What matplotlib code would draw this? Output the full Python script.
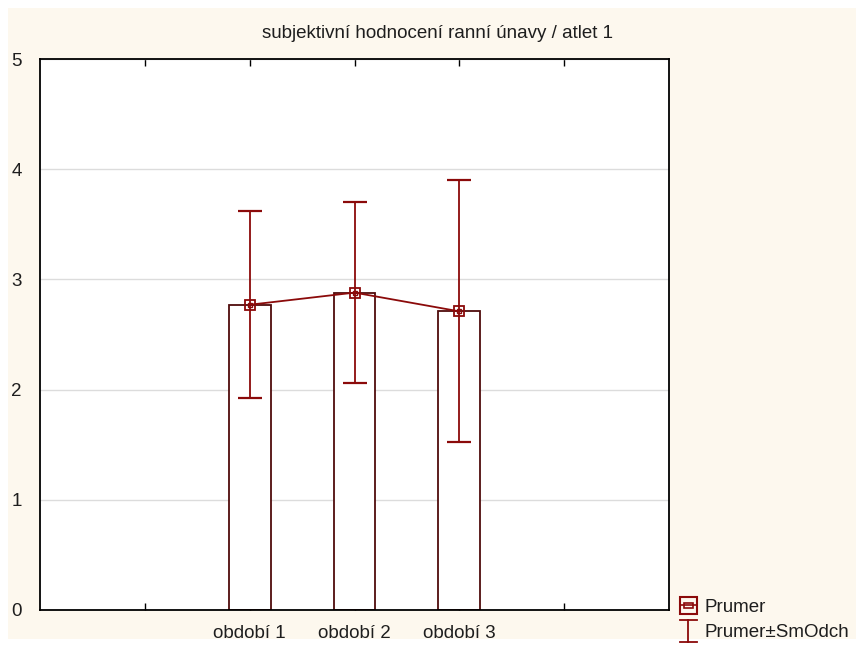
import matplotlib
matplotlib.use("Agg")
import matplotlib.pyplot as plt
from matplotlib.patches import Rectangle
from matplotlib.lines import Line2D
from matplotlib.legend_handler import HandlerBase

categories = ["období 1", "období 2", "období 3"]
means = [2.77, 2.88, 2.71]
sds = [0.85, 0.82, 1.19]
yticks = [0, 1, 2, 3, 4, 5]

plt.rcParams['font.family'] = ['Liberation Sans', 'DejaVu Sans']
txtc = '#1e1e1e'

W, H = 856, 647
fig = plt.figure(figsize=(W/100, H/100), dpi=100)
fig.patch.set_facecolor('white')
fig.patches.append(Rectangle((8/W, (H-639)/H), (W-8)/W, (639-8)/H,
                             transform=fig.transFigure, facecolor='#fdf8ee',
                             edgecolor='none', zorder=-10))

ax = fig.add_axes([40/W, (H-610)/H, (669-40)/W, (610-59)/H])
ax.set_facecolor('white')

pos = [2, 3, 4]
red = '#8b0a0a'
ax.bar(pos, means, width=0.4, facecolor='white', edgecolor='#4f0c0c', linewidth=1.3, zorder=2)
ax.errorbar(pos, means, yerr=sds, fmt='none', ecolor=red, elinewidth=1.3,
            capsize=8.5, capthick=1.6, zorder=3)
ax.plot(pos, means, color=red, linewidth=1.3, marker='s', markersize=7,
        markerfacecolor='none', markeredgecolor=red, markeredgewidth=1.3, zorder=4)
ax.plot(pos, means, linestyle='none', marker='s', markersize=2.5,
        markerfacecolor='none', markeredgecolor=red, markeredgewidth=1.0, zorder=5)

ax.set_xlim(0, 6)
ax.set_ylim(0, 5)
ax.set_yticks(yticks)
ax.set_yticklabels([str(t) for t in yticks], fontsize=13.5, color=txtc)
ax.tick_params(axis='y', length=0, pad=13)
ax.set_xticks([1, 2, 3, 4, 5])
ax.set_xticklabels(["", categories[0], categories[1], categories[2], ""], fontsize=13.5, color=txtc)
ax.tick_params(axis='x', direction='in', length=5, width=1, top=True, pad=11)
ax.yaxis.grid(True, color='#dcdcdc', linewidth=1)
ax.set_axisbelow(True)
for s in ax.spines.values():
    s.set_linewidth(1.3)
    s.set_color('black')

fig.text(438/W, 1 - 34/H, "subjektivní hodnocení ranní únavy / atlet 1",
         ha='center', va='center', fontsize=13.5, color=txtc)


class MeanHandler(HandlerBase):
    def create_artists(self, legend, orig_handle, xdescent, ydescent, width, height, fontsize, trans):
        cx, cy = width / 2 - xdescent, height / 2 - ydescent
        s = min(width, height) * 1.0
        big = Rectangle((cx - s/2, cy - s/2), s, s, facecolor='none', edgecolor=red,
                        linewidth=1.5, transform=trans)
        small = Rectangle((cx - s/4, cy - s/6), s/2, s/3, facecolor='none', edgecolor=red,
                          linewidth=1.2, transform=trans)
        ln = Line2D([cx - s/2, cx + s/2], [cy, cy], color=red, linewidth=1.2, transform=trans)
        return [big, small, ln]


class ErrHandler(HandlerBase):
    def create_artists(self, legend, orig_handle, xdescent, ydescent, width, height, fontsize, trans):
        cx = width / 2 - xdescent
        y0, y1 = -ydescent - 2, height - ydescent + 2
        s = min(width, height) * 0.5
        v = Line2D([cx, cx], [y0, y1], color=red, linewidth=1.3, transform=trans)
        t = Line2D([cx - s, cx + s], [y1, y1], color=red, linewidth=1.3, transform=trans)
        b = Line2D([cx - s, cx + s], [y0, y0], color=red, linewidth=1.3, transform=trans)
        return [v, t, b]


hm = Line2D([], [], color=red)
he = Line2D([], [], color=red, linestyle='--')
leg = fig.legend([hm, he], ["Prumer", "Prumer±SmOdch"],
                 handler_map={hm: MeanHandler(), he: ErrHandler()},
                 loc='upper left', bbox_to_anchor=(679/W, 1 - 597/H),
                 frameon=False, fontsize=13.5, handlelength=1.0, handleheight=1.0,
                 handletextpad=0.35, labelspacing=0.35, borderpad=0, borderaxespad=0)
for t in leg.get_texts():
    t.set_color(txtc)

fig.savefig("out.png", dpi=100)
